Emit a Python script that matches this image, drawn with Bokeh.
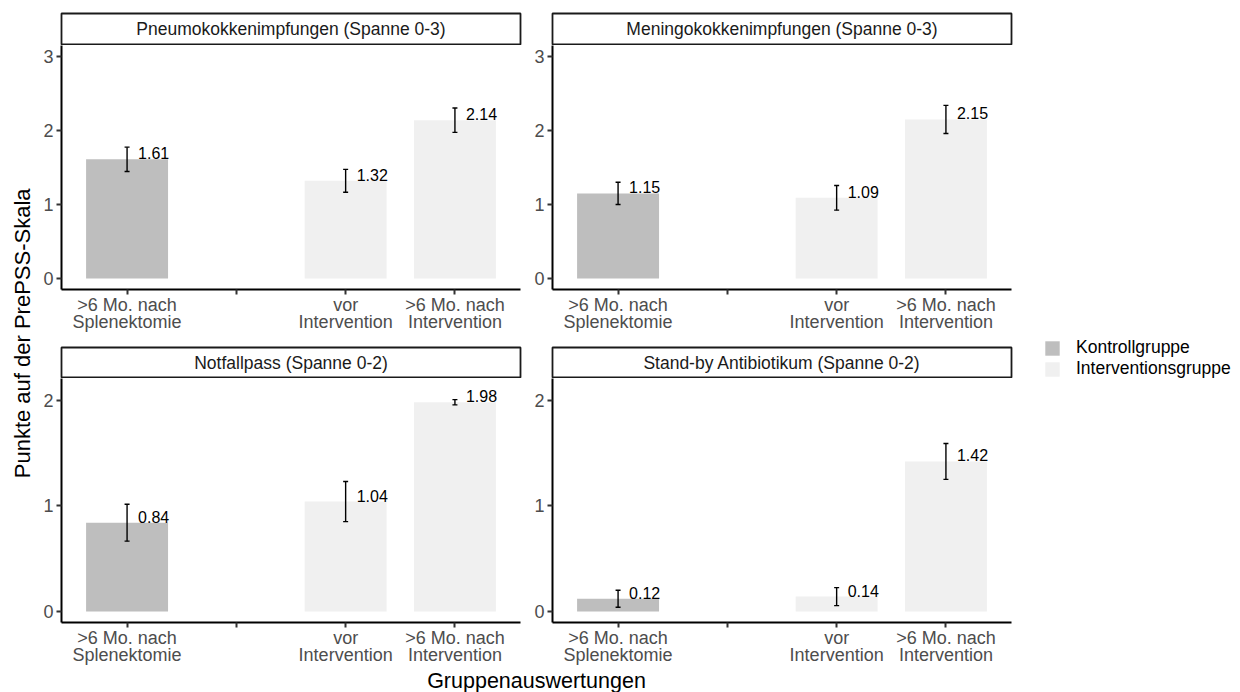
import math
from bokeh.plotting import figure
from bokeh.models import (ColumnDataSource, Range1d, FixedTicker, Whisker, TeeHead, Label,
                          Legend, LegendItem)
from bokeh.layouts import row, column
from bokeh.core.properties import value
from bokeh.embed import file_html
from bokeh.resources import INLINE

FONT = "Liberation Sans"

# ---------------- data ----------------
categories = [">6 Mo. nach\nSplenektomie", " ", "vor\nIntervention", ">6 Mo. nach\nIntervention"]
bar_categories = [categories[0], categories[2], categories[3]]
bar_groups = ["Kontrollgruppe", "Interventionsgruppe", "Interventionsgruppe"]
group_names = ["Kontrollgruppe", "Interventionsgruppe"]
group_colors = ["#BEBEBE", "#F0F0F0"]

panel_titles = [
    "Pneumokokkenimpfungen (Spanne 0-3)",
    "Meningokokkenimpfungen (Spanne 0-3)",
    "Notfallpass (Spanne 0-2)",
    "Stand-by Antibiotikum (Spanne 0-2)",
]
panel_ymax = [3, 3, 2.1, 2.1]
panel_yticks = [[0, 1, 2, 3], [0, 1, 2, 3], [0, 1, 2], [0, 1, 2]]

pneumo_mean = [1.61, 1.32, 2.14]
pneumo_se = [0.165, 0.155, 0.165]
mening_mean = [1.15, 1.09, 2.15]
mening_se = [0.15, 0.167, 0.19]
notfall_mean = [0.84, 1.04, 1.98]
notfall_se = [0.175, 0.19, 0.025]
standby_mean = [0.12, 0.14, 1.42]
standby_se = [0.08, 0.085, 0.17]

panel_means = [pneumo_mean, mening_mean, notfall_mean, standby_mean]
panel_ses = [pneumo_se, mening_se, notfall_se, standby_se]

# ---------------- layout constants ----------------
YT_W = 36
FRAME_W = 459
FRAME_H = 244
TICK_SIZE = "18px"
STRIP_SIZE = "17.5px"


def blank_fig(w, h):
    f = figure(width=w, height=h, x_range=Range1d(0, 1), y_range=Range1d(0, 1),
               output_backend="svg", toolbar_location=None, title=None,
               x_axis_location=None, y_axis_location=None,
               min_border_left=0, min_border_right=0, min_border_top=0, min_border_bottom=0)
    f.grid.visible = False
    f.outline_line_color = None
    return f


def make_strip(title, top_row, bl, br):
    if top_row:
        h, bt, bb = 45, 13, 1
    else:
        h, bt, bb = 32, 1, 1
    s = figure(width=bl + FRAME_W + br, height=h, x_range=Range1d(0, 1), y_range=Range1d(0, 1),
               output_backend="svg", toolbar_location=None, title=None,
               x_axis_location=None, y_axis_location=None,
               min_border_left=bl, min_border_right=br, min_border_top=bt, min_border_bottom=bb)
    s.grid.visible = False
    s.outline_line_color = "#1A1A1A"
    s.outline_line_width = 1.8
    s.add_layout(Label(x=0.5, y=0.5, text=title, text_align="center", text_baseline="middle",
                       text_font=FONT, text_font_size=STRIP_SIZE, text_color="#1A1A1A"))
    return s


def make_panel(means, ses, ymax, yticks, top_row, bl, br):
    bottom = 57 if top_row else 46
    pad = 0.6
    p = figure(width=bl + FRAME_W + br, height=FRAME_H + bottom,
               x_range=Range1d(1 - pad, len(categories) + pad),
               y_range=Range1d(-0.05 * ymax, 1.05 * ymax),
               output_backend="svg", toolbar_location=None, title=None,
               min_border_left=bl, min_border_right=br, min_border_top=0, min_border_bottom=bottom)
    p.outline_line_color = None
    p.grid.visible = False

    xs = [categories.index(c) + 1 for c in bar_categories]
    colors = [group_colors[group_names.index(g)] for g in bar_groups]
    src = ColumnDataSource(dict(
        x=xs, mean=means,
        upper=[m + s for m, s in zip(means, ses)],
        lower=[m - s for m, s in zip(means, ses)],
        color=colors,
        label=["%.2f" % m for m in means],
    ))
    p.vbar(x="x", top="mean", bottom=0, width=0.75, fill_color="color", line_color=None, source=src)
    w = Whisker(source=src, base="x", upper="upper", lower="lower",
                line_color="black", line_width=1.4,
                upper_head=TeeHead(size=5, line_color="black", line_width=1.4),
                lower_head=TeeHead(size=5, line_color="black", line_width=1.4),
                level="overlay")
    p.add_layout(w)
    p.text(x="x", y="mean", text="label", source=src, x_offset=11,
           text_align="left", text_baseline="bottom",
           text_font=value(FONT), text_font_size="16px", text_color="black")

    p.xaxis.ticker = FixedTicker(ticks=list(range(1, len(categories) + 1)))
    p.xaxis.major_label_overrides = {i + 1: c for i, c in enumerate(categories)}
    p.xaxis.major_label_text_line_height = 0.85
    p.xaxis.major_label_standoff = 0
    p.yaxis.ticker = FixedTicker(ticks=yticks)
    p.yaxis.major_label_standoff = 3
    for ax in p.axis:
        ax.axis_line_color = "black"
        ax.axis_line_width = 2
        ax.major_tick_line_color = "#333333"
        ax.major_tick_line_width = 2
        ax.major_tick_out = 5
        ax.major_tick_in = 0
        ax.minor_tick_out = 0
        ax.minor_tick_in = 0
        ax.major_label_text_font = FONT
        ax.major_label_text_font_size = TICK_SIZE
        ax.major_label_text_color = "#4D4D4D"
    return p


# left column frames start at x=61, right column at x=552
borders = [(61 - YT_W, 4), (28, 4)]
cells = []
for i in range(4):
    top = i < 2
    bl, br = borders[i % 2]
    s = make_strip(panel_titles[i], top, bl, br)
    p = make_panel(panel_means[i], panel_ses[i], panel_ymax[i], panel_yticks[i], top, bl, br)
    cells.append(column(s, p))

mid_w = sum(b[0] + FRAME_W + b[1] for b in borders)

# y-axis title
ytitle = blank_fig(YT_W, 692)
ytitle.add_layout(Label(x=22 / YT_W, y=0.519, angle=math.pi / 2, text="Punkte auf der PrePSS-Skala",
                        text_align="center", text_baseline="middle",
                        text_font=FONT, text_font_size="22px", text_color="black"))

# x-axis title
xtitle = blank_fig(mid_w, 24)
xtitle.add_layout(Label(x=(536 - YT_W) / mid_w, y=0.5, text="Gruppenauswertungen",
                        text_align="center", text_baseline="middle",
                        text_font=FONT, text_font_size="21.5px", text_color="black"))

# legend
leg = blank_fig(1240 - YT_W - mid_w, 692)
leg_src = ColumnDataSource(dict(x=[0, 0], top=[0, 0], color=group_colors))
leg_r = leg.vbar(x="x", top="top", width=0, fill_color="color", line_color=None, source=leg_src)
items = [LegendItem(label=g, renderers=[leg_r], index=i) for i, g in enumerate(group_names)]
lg = Legend(items=items, location=(28, 313), glyph_width=18, glyph_height=18, label_height=18,
            spacing=0, padding=0, margin=0, border_line_color=None, background_fill_alpha=0,
            label_standoff=15, label_text_font=FONT, label_text_font_size=STRIP_SIZE,
            label_text_color="black")
leg.add_layout(lg)

middle = column(row(cells[0], cells[1]), row(cells[2], cells[3]), xtitle)
layout = row(ytitle, middle, leg)

open("out.html", "w").write(file_html(layout, INLINE))
